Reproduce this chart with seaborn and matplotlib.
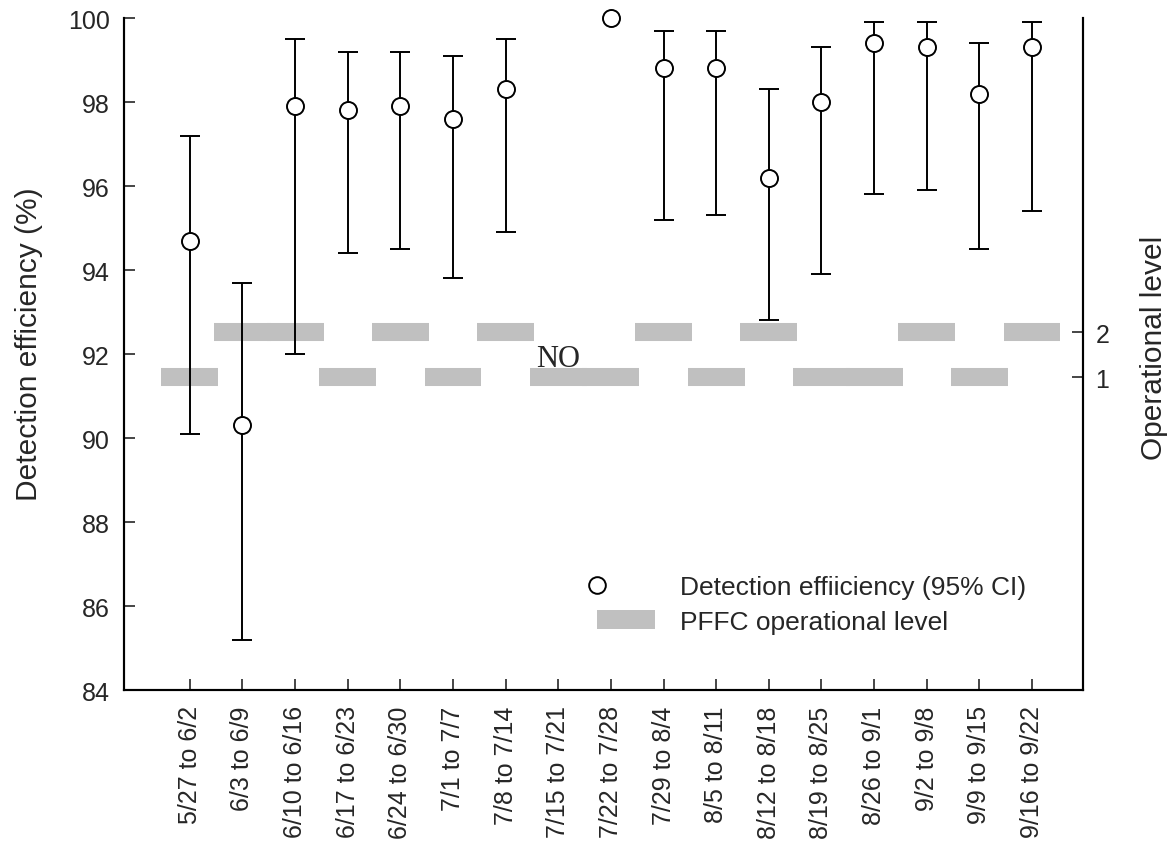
import numpy as np
import matplotlib
matplotlib.use("Agg")
import matplotlib.pyplot as plt
import seaborn as sns
from matplotlib.lines import Line2D
from matplotlib.patches import Patch
from matplotlib.legend_handler import HandlerLine2D

weeks = ["5/27 to 6/2", "6/3 to 6/9", "6/10 to 6/16", "6/17 to 6/23", "6/24 to 6/30",
         "7/1 to 7/7", "7/8 to 7/14", "7/15 to 7/21", "7/22 to 7/28", "7/29 to 8/4",
         "8/5 to 8/11", "8/12 to 8/18", "8/19 to 8/25", "8/26 to 9/1", "9/2 to 9/8",
         "9/9 to 9/15", "9/16 to 9/22"]
efficiency = [94.7, 90.3, 97.9, 97.8, 97.9, 97.6, 98.3, np.nan, 100.0, 98.8,
              98.8, 96.2, 98.0, 99.4, 99.3, 98.2, 99.3]
ci_low = [90.1, 85.2, 92.0, 94.4, 94.5, 93.8, 94.9, np.nan, np.nan, 95.2,
          95.3, 92.8, 93.9, 95.8, 95.9, 94.5, 95.4]
ci_high = [97.2, 93.7, 99.5, 99.2, 99.2, 99.1, 99.5, np.nan, np.nan, 99.7,
           99.7, 98.3, 99.3, 99.9, 99.9, 99.4, 99.9]
op_level = [1, 2, 2, 1, 2, 1, 2, 1, 1, 2, 1, 2, 1, 1, 2, 1, 2]

sns.set_style("ticks")
plt.rcParams['font.family'] = ['Liberation Sans', 'DejaVu Sans']

fig = plt.figure(figsize=(11.71, 8.45), dpi=100)
ax = fig.add_axes([0.1059, 0.1822, 0.8190, 0.7953])
ax2 = ax.twinx()

x = np.arange(len(weeks))
eff = np.array(efficiency)
lo = np.array(ci_low)
hi = np.array(ci_high)

# operational level bars on secondary axis
gray = "#c0c0c0"
ax2.hlines(op_level, x - 0.54, x + 0.54, colors=gray, linewidth=13, zorder=1)
ax2.set_ylim(-5.96, 8.99)
ax2.set_yticks([1, 2])
ax2.set_yticklabels(["1", "2"], fontsize=18)
ax2.tick_params(axis='y', direction='in', length=8, width=1.2, pad=9)
ax2.set_ylabel("Operational level", fontsize=21.5)
ax2.yaxis.set_label_coords(1.0594, 0.511)

ax.set_zorder(ax2.get_zorder() + 1)
ax.patch.set_visible(False)

mask = ~np.isnan(lo)
ax.errorbar(x[mask], eff[mask], yerr=[eff[mask] - lo[mask], hi[mask] - eff[mask]],
            fmt='none', ecolor='black', elinewidth=1.4, capsize=7.5, capthick=1.4, zorder=2)
valid = ~np.isnan(eff)
sns.scatterplot(x=x[valid], y=eff[valid], ax=ax, s=150, marker='o', facecolor='white',
                edgecolor='black', linewidth=1.4, zorder=3, clip_on=False)

ax.text(7, 91.9, "NO", fontsize=22, family='Liberation Serif', ha='center', va='center')

ax.set_xlim(-1.25, 16.97)
ax.set_ylim(84, 100)
ax.set_yticks(np.arange(84, 101, 2))
ax.set_yticklabels([str(v) for v in range(84, 101, 2)], fontsize=18)
ax.set_xticks(x)
ax.set_xticklabels(weeks, rotation=90, fontsize=18)
ax.tick_params(axis='both', direction='in', length=8, width=1.2)
ax.tick_params(axis='y', pad=10)
ax.tick_params(axis='x', pad=11)
ax.set_ylabel("Detection efficiency (%)", fontsize=21.5)
ax.yaxis.set_label_coords(-0.0845, 0.516)

for a in (ax, ax2):
    a.spines['top'].set_visible(False)
    for s in ('left', 'right', 'bottom'):
        a.spines[s].set_visible(True)
        a.spines[s].set_linewidth(1.5)
        a.spines[s].set_color('black')


class LeftMarkerHandler(HandlerLine2D):
    def get_xdata(self, legend, xdescent, ydescent, width, height, fontsize):
        xd = np.array([-xdescent - width, -xdescent + width])
        return xd, np.array([-xdescent])


circle = Line2D([], [], marker='o', linestyle='none', markerfacecolor='white',
                markeredgecolor='black', markersize=12, markeredgewidth=1.4)
patch = Patch(facecolor=gray, edgecolor='none')
ax.legend([circle, patch], ["Detection effiiciency (95% CI)", "PFFC operational level"],
          loc='upper left', bbox_to_anchor=(0.4932, 0.1711), frameon=False, fontsize=19,
          handlelength=2.2, handleheight=0.7, handletextpad=0.95, labelspacing=0.4,
          borderpad=0, borderaxespad=0, numpoints=1,
          handler_map={circle: LeftMarkerHandler(numpoints=1)})

fig.savefig("out.png", dpi=100)
